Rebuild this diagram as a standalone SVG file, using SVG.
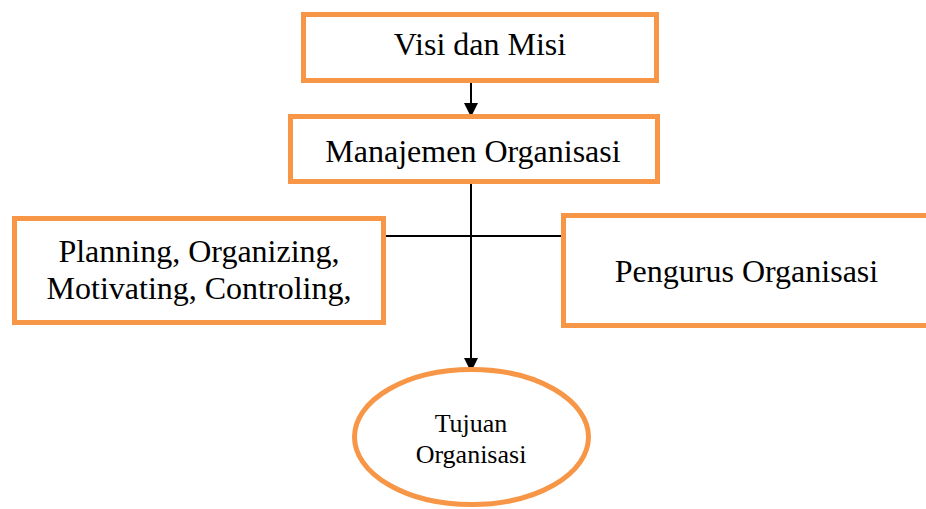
<svg xmlns="http://www.w3.org/2000/svg" width="926" height="509" viewBox="0 0 926 509">
<style>
.box{fill:#fff;stroke:#F79646;stroke-width:5}
.t{font-family:"Liberation Serif","Times New Roman",serif;fill:#000;text-anchor:middle}
.c{stroke:#000;stroke-width:2;fill:none}
</style>
<defs>
<marker id="ah" markerWidth="14" markerHeight="14" refX="14" refY="7" orient="auto" markerUnits="userSpaceOnUse">
<path d="M0,0 L14,7 L0,14 Z" fill="#000"/>
</marker>
</defs>
<rect width="926" height="509" fill="#fff"/>
<g id="connectors">
<line class="c" x1="471" y1="82" x2="471" y2="117" marker-end="url(#ah)"/>
<line class="c" x1="471" y1="183" x2="471" y2="372" marker-end="url(#ah)"/>
<line class="c" x1="384" y1="236" x2="564" y2="236"/>
</g>
<g id="visi">
<rect class="box" x="303.5" y="14.5" width="353" height="66"/>
<text class="t" x="480" y="55" font-size="32">Visi dan Misi</text>
</g>
<g id="manajemen">
<rect class="box" x="290.5" y="116.5" width="367" height="65"/>
<text class="t" x="473" y="162" font-size="32">Manajemen Organisasi</text>
</g>
<g id="poac">
<rect class="box" x="14.5" y="218.5" width="369" height="104"/>
<text class="t" x="199" y="262" font-size="32">Planning, Organizing,</text>
<text class="t" x="199" y="299" font-size="32">Motivating, Controling,</text>
</g>
<g id="pengurus">
<rect class="box" x="563.5" y="215.5" width="372" height="110"/>
<text class="t" x="746.5" y="282" font-size="32">Pengurus Organisasi</text>
</g>
<g id="tujuan">
<ellipse class="box" cx="471.5" cy="437" rx="117" ry="67.5"/>
<text class="t" x="471" y="432" font-size="26">Tujuan</text>
<text class="t" x="471" y="463" font-size="26">Organisasi</text>
</g>
</svg>
